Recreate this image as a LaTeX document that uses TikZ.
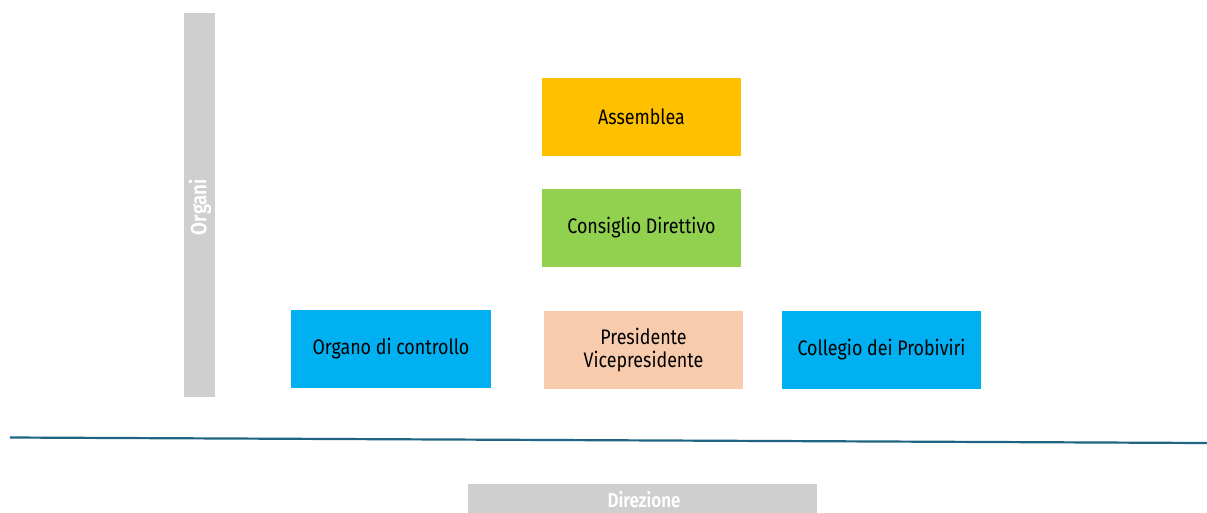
\documentclass[tikz,border=0pt]{standalone}
\usepackage{fontspec}
\setmainfont{Fira Sans}
\newfontfamily\cond[FakeStretch=0.85]{Fira Sans}
\newfontfamily\condb[FakeStretch=0.85]{Fira Sans SemiBold}
\begin{document}
\begin{tikzpicture}[x=1pt,y=-1pt,
  box/.style={draw=none,minimum width=199pt,minimum height=78pt,inner sep=0pt,align=center,font=\cond\fontsize{21}{23}\selectfont,text=black},
  band/.style={fill=black!19,draw=none,inner sep=0pt}]
\useasboundingbox (0,0) rectangle (1207,512);
\clip (0,0) rectangle (1207,512);
\fill[white] (0,0) rectangle (1207,512);
\node[band,minimum width=31pt,minimum height=384pt] (organi) at (199.5,205) {};
\node[rotate=90,text=white,font=\condb\fontsize{22}{24}\selectfont] (organilbl) at (200,207) {Organi};
\node[box,fill={rgb,255:red,255;green,192;blue,0}] (assemblea) at (641.5,117) {Assemblea};
\node[box,fill={rgb,255:red,146;green,208;blue,80}] (consiglio) at (641.5,228) {Consiglio Direttivo};
\node[box,fill={rgb,255:red,0;green,176;blue,240},minimum width=200pt] (organo) at (391,349) {Organo di controllo};
\node[box,fill={rgb,255:red,248;green,203;blue,173}] (presidente) at (643.5,350) {Presidente\\Vicepresidente};
\node[box,fill={rgb,255:red,0;green,176;blue,240}] (collegio) at (881.5,350) {Collegio dei Probiviri};
\coordinate (la) at (10,437.5);
\coordinate (lb) at (1207,443);
\draw[line width=2.2pt,color={rgb,255:red,31;green,100;blue,130}] (la) -- (lb);
\node[band,minimum width=349pt,minimum height=40pt] (direzione) at (642.5,504) {};
\node[text=white,font=\condb\fontsize{20}{22}\selectfont,inner sep=0pt] (direzionelbl) at (644,500) {Direzione};
\end{tikzpicture}
\end{document}
